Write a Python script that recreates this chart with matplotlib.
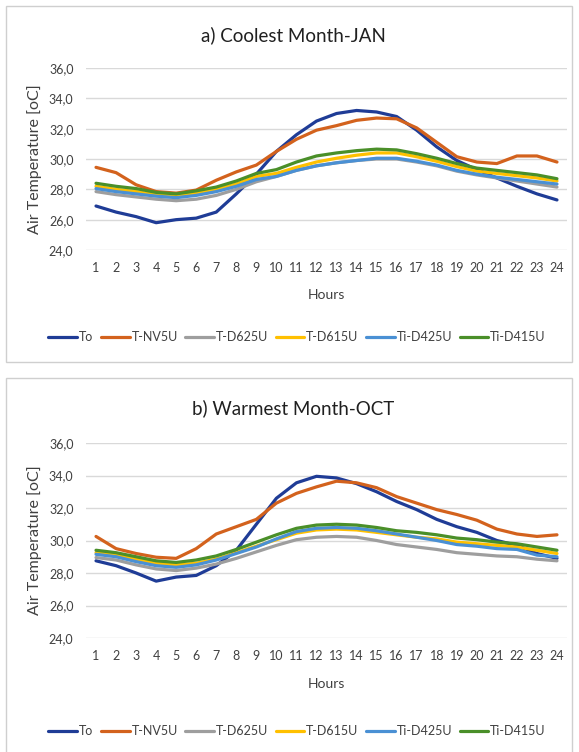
import matplotlib
matplotlib.use("Agg")
import matplotlib.pyplot as plt
from matplotlib.patches import Rectangle
from matplotlib.ticker import FuncFormatter, MultipleLocator

plt.rcParams['font.family'] = ['Lato', 'DejaVu Sans']

hours = list(range(1, 25))
series_names = ['To', 'T-NV5U', 'T-D625U', 'T-D615U', 'Ti-D425U', 'Ti-D415U']
colors = ['#1F3C96', '#D3621D', '#9E9E9E', '#FFC000', '#4A90D4', '#4A8F29']

# a) Coolest month - JAN
jan_to = [26.9, 26.5, 26.2, 25.8, 26.0, 26.1, 26.5, 27.7, 29.0, 30.5, 31.6, 32.5,
          33.0, 33.2, 33.1, 32.8, 31.9, 30.8, 29.9, 29.3, 28.75, 28.2, 27.7, 27.3]
jan_nv5u = [29.45, 29.1, 28.3, 27.85, 27.75, 27.95, 28.6, 29.15, 29.6, 30.5, 31.3, 31.9,
            32.2, 32.55, 32.7, 32.65, 32.05, 31.1, 30.15, 29.8, 29.7, 30.2, 30.2, 29.8]
jan_d625u = [27.85, 27.65, 27.5, 27.35, 27.25, 27.35, 27.6, 28.0, 28.5, 28.85, 29.25, 29.55,
             29.75, 29.9, 30.0, 30.0, 29.8, 29.55, 29.2, 28.95, 28.75, 28.55, 28.35, 28.15]
jan_d615u = [28.2, 28.0, 27.85, 27.65, 27.55, 27.75, 28.0, 28.35, 28.85, 29.05, 29.45, 29.8,
             30.05, 30.25, 30.4, 30.4, 30.15, 29.85, 29.5, 29.2, 29.05, 28.9, 28.75, 28.55]
jan_d425u = [28.05, 27.85, 27.7, 27.55, 27.45, 27.6, 27.85, 28.2, 28.65, 28.85, 29.25, 29.55,
             29.75, 29.9, 30.05, 30.05, 29.85, 29.6, 29.25, 29.0, 28.8, 28.65, 28.5, 28.35]
jan_d415u = [28.4, 28.2, 28.05, 27.8, 27.7, 27.9, 28.15, 28.55, 29.05, 29.3, 29.8, 30.2,
             30.4, 30.55, 30.65, 30.6, 30.35, 30.05, 29.7, 29.4, 29.25, 29.1, 28.95, 28.7]

# b) Warmest month - OCT
oct_to = [28.75, 28.45, 28.0, 27.5, 27.75, 27.85, 28.45, 29.4, 31.0, 32.6, 33.55, 33.95,
          33.85, 33.5, 33.0, 32.4, 31.9, 31.3, 30.85, 30.5, 30.0, 29.7, 29.2, 28.9]
oct_nv5u = [30.25, 29.5, 29.2, 28.97, 28.9, 29.5, 30.4, 30.85, 31.3, 32.3, 32.9, 33.3,
            33.65, 33.55, 33.25, 32.7, 32.3, 31.9, 31.6, 31.25, 30.7, 30.4, 30.25, 30.35]
oct_d625u = [28.95, 28.8, 28.5, 28.25, 28.15, 28.3, 28.55, 28.9, 29.3, 29.7, 30.05, 30.2,
             30.25, 30.2, 30.0, 29.75, 29.6, 29.45, 29.25, 29.15, 29.05, 29.0, 28.85, 28.75]
oct_d615u = [29.25, 29.1, 28.85, 28.6, 28.5, 28.6, 28.85, 29.25, 29.65, 30.05, 30.45, 30.65,
             30.7, 30.65, 30.5, 30.35, 30.2, 30.1, 29.9, 29.8, 29.7, 29.6, 29.4, 29.2]
oct_d425u = [29.15, 29.0, 28.7, 28.45, 28.35, 28.5, 28.8, 29.2, 29.6, 30.1, 30.55, 30.75,
             30.8, 30.75, 30.6, 30.4, 30.2, 30.0, 29.75, 29.65, 29.5, 29.45, 29.1, 29.0]
oct_d415u = [29.4, 29.25, 29.0, 28.75, 28.65, 28.8, 29.05, 29.45, 29.9, 30.35, 30.75, 30.95,
             31.0, 30.95, 30.8, 30.6, 30.5, 30.35, 30.15, 30.05, 29.9, 29.8, 29.6, 29.4]

jan = [jan_to, jan_nv5u, jan_d625u, jan_d615u, jan_d425u, jan_d415u]
octo = [oct_to, oct_nv5u, oct_d625u, oct_d615u, oct_d425u, oct_d415u]

W, H = 579, 752
fig = plt.figure(figsize=(W / 100, H / 100), dpi=100)

# panel frames
for (y0, y1) in [(6, 362), (378, 760)]:
    fig.patches.append(Rectangle((6 / W, 1 - y1 / H), 566 / W, (y1 - y0) / H,
                                 transform=fig.transFigure, fill=False,
                                 edgecolor='#CFCFCF', linewidth=1))

comma = FuncFormatter(lambda v, p: f"{v:.1f}".replace('.', ','))


def draw_panel(top, bottom, data, title, title_y, hours_y, legend_y):
    ax = fig.add_axes([86 / W, 1 - bottom / H, 481 / W, (bottom - top) / H])
    for vals, name, c in zip(data, series_names, colors):
        ax.plot(hours, vals, color=c, linewidth=2.3, label=name,
                solid_capstyle='round', solid_joinstyle='round')
    ax.set_xlim(0.5, 24.5)
    ax.set_ylim(24, 36)
    ax.yaxis.set_major_locator(MultipleLocator(2))
    ax.yaxis.set_major_formatter(comma)
    ax.set_xticks(hours)
    ax.grid(axis='y', color='#D9D9D9', linewidth=1)
    ax.set_axisbelow(True)
    for s in ax.spines.values():
        s.set_visible(False)
    ax.tick_params(length=0, labelsize=9, colors='#404040')
    ax.tick_params(axis='y', pad=9)
    ax.tick_params(axis='x', pad=9)
    ax.set_ylabel('Air Temperature [oC]', fontsize=11.5, color='#404040', labelpad=5)
    fig.text(326 / W, 1 - hours_y / H, 'Hours', ha='center', va='center',
             fontsize=10, color='#404040')
    fig.text(293 / W, 1 - title_y / H, title, ha='center', va='center',
             fontsize=13.5, color='#202020')
    fig.legend(*ax.get_legend_handles_labels(), loc='center',
               bbox_to_anchor=(297 / W, 1 - legend_y / H), ncol=6, frameon=False,
               fontsize=9, handlelength=2.3, handletextpad=0.15, columnspacing=0.6,
               labelcolor='#404040')
    return ax


draw_panel(68, 250, jan, 'a) Coolest Month-JAN', 35, 295, 337)
draw_panel(443, 638, octo, 'b) Warmest Month-OCT', 408, 684, 731)

fig.savefig('out.png', dpi=100)
